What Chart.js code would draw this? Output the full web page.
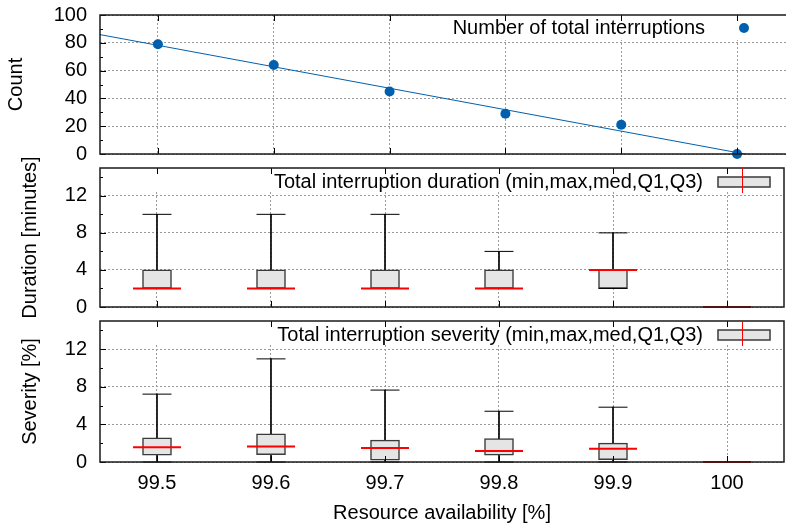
<!DOCTYPE html>
<html>
<head>
<meta charset="utf-8">
<script src="https://cdn.jsdelivr.net/npm/chart.js@4.4.1/dist/chart.umd.min.js"></script>
<style>
  html, body { margin: 0; padding: 0; background: #fff; overflow: hidden; }
  .wrap { position: relative; width: 786px; height: 525px; overflow: hidden; }
  .wrap canvas { position: absolute; left: 0; top: 0; }
</style>
</head>
<body>
<div class="wrap">
  <canvas id="countChart" width="810" height="525"></canvas>
  <canvas id="durationChart" width="810" height="525"></canvas>
  <canvas id="severityChart" width="810" height="525"></canvas>
</div>
<script>
// gnuplot-ish look
Chart.defaults.font.family = '"Liberation Sans", Arial, sans-serif';
Chart.defaults.font.size = 20;
Chart.defaults.color = '#000';
Chart.defaults.animation = false;

// x categories (resource availability, %)
const availability = [99.5, 99.6, 99.7, 99.8, 99.9, 100];
const xTickLabels = ['99.5', '99.6', '99.7', '99.8', '99.9', '100'];

// top panel: number of interruptions + fitted line (end points)
const interruptions = [79, 64, 45, 29, 21, 0];
const fitX = [99.45, 100.05];
const fitY = [85.9, -6.7];
const countTicks = [0, 20, 40, 60, 80, 100];

// middle panel: duration [minutes]
const durMin = [2, 2, 2, 2, 2, 0];
const durQ1 = [2, 2, 2, 2, 2, 0];
const durMed = [2, 2, 2, 2, 4, 0];
const durQ3 = [4, 4, 4, 4, 4, 0];
const durMax = [10, 10, 10, 6, 8, 0];

// bottom panel: severity [%]
const sevMin = [0, 0, 0, 0, 0, 0];
const sevQ1 = [0.72, 0.79, 0.2, 0.72, 0.26, 0];
const sevMed = [1.58, 1.65, 1.5, 1.18, 1.4, 0];
const sevQ3 = [2.57, 3.0, 2.33, 2.5, 2.0, 0];
const sevMax = [7.22, 10.97, 7.65, 5.4, 5.83, 0];
const boxTicks = [0, 4, 8, 12];

const BLUE = '#0060ad';
const gridDash = [2, 2];
const gridColor = '#9a9a9a';

// Frame, inward ticks and in-plot key, drawn like gnuplot does
const panelFrame = {
  id: 'panelFrame',
  beforeDatasetsDraw(chart, args, o) {
    const a = chart.chartArea, ctx = chart.ctx;
    ctx.save();
    ctx.fillStyle = '#fff';
    ctx.fillRect(o.keyLeft, a.top, a.right - o.keyLeft, o.keyHeight);
    ctx.restore();
  },
  afterDraw(chart, args, o) {
    const a = chart.chartArea, ctx = chart.ctx;
    const xs = chart.scales.x, ys = chart.scales.y;
    ctx.save();

    // tick marks pointing into the plot
    ctx.strokeStyle = '#000';
    ctx.lineWidth = 1;
    ctx.beginPath();
    xs.ticks.forEach(t => {
      const px = Math.round(xs.getPixelForValue(t.value)) + 0.5;
      ctx.moveTo(px, a.bottom); ctx.lineTo(px, a.bottom - 6);
      ctx.moveTo(px, a.top); ctx.lineTo(px, a.top + 6);
    });
    const step = ys.ticks[1].value - ys.ticks[0].value;
    ys.ticks.forEach(t => {
      const py = Math.round(ys.getPixelForValue(t.value)) + 0.5;
      ctx.moveTo(a.left, py); ctx.lineTo(a.left + 6, py);
      const mid = t.value + step / 2;
      if (mid < ys.max) {
        const pm = Math.round(ys.getPixelForValue(mid)) + 0.5;
        ctx.moveTo(a.left, pm); ctx.lineTo(a.left + 3, pm);
      }
    });
    ctx.stroke();

    // border
    ctx.strokeStyle = '#1a1a1a';
    ctx.lineWidth = 1.5;
    ctx.strokeRect(a.left, a.top, a.right - a.left, a.bottom - a.top);

    // key
    const ds = chart.data.datasets[0];
    const ky = a.top + o.keyY;
    ctx.font = '20px "Liberation Sans", Arial, sans-serif';
    ctx.fillStyle = '#000';
    ctx.textAlign = 'right';
    ctx.textBaseline = 'middle';
    ctx.fillText(ds.label, o.textRight, ky);
    if (o.symbol === 'dot') {
      ctx.fillStyle = BLUE;
      ctx.beginPath();
      ctx.arc(744, ky, 5, 0, Math.PI * 2);
      ctx.fill();
    } else {
      ctx.fillStyle = '#e5e5e5';
      ctx.fillRect(718, ky - 5, 52, 10);
      ctx.strokeStyle = '#3a3a3a';
      ctx.lineWidth = 1.5;
      ctx.strokeRect(718, ky - 5, 52, 10);
      ctx.strokeStyle = '#ff0000';
      ctx.lineWidth = 1;
      ctx.beginPath();
      ctx.moveTo(742.5, a.top); ctx.lineTo(742.5, a.top + 25);
      ctx.stroke();
    }
    ctx.restore();
  }
};

// keep the panels exactly where the layout padding puts them
function noEdgePadding(s) {
  s.paddingTop = 0; s.paddingBottom = 0; s.paddingLeft = 0; s.paddingRight = 0;
}

function xScale(bottom) {
  return {
    type: 'linear', min: 99.45, max: 100.05, offset: false,
    afterBuildTicks: s => { s.ticks = availability.map(v => ({ value: v })); },
    afterFit: s => { s.height = bottom ? 63 : 0; noEdgePadding(s); },
    grid: { color: gridColor, drawTicks: false, offset: false },
    border: { display: false, dash: gridDash },
    ticks: { display: bottom, padding: 9, maxRotation: 0, callback: (v, i) => xTickLabels[i] },
    title: { display: bottom, text: 'Resource availability [%]', padding: 0 }
  };
}

function yScale(max, ticks, title, width) {
  return {
    min: 0, max: max,
    afterBuildTicks: s => { s.ticks = ticks.map(v => ({ value: v })); },
    afterFit: s => { s.width = width; noEdgePadding(s); },
    grid: { color: gridColor, drawTicks: false },
    border: { display: false, dash: gridDash },
    ticks: { padding: 13, callback: v => String(v) },
    title: { display: true, text: title, padding: { top: 4, bottom: 0 } }
  };
}

// top: count scatter with fit line
new Chart(document.getElementById('countChart'), {
  type: 'scatter',
  data: {
    datasets: [
      {
        label: 'Number of total interruptions',
        data: availability.map((x, i) => ({ x: x, y: interruptions[i] })),
        pointRadius: 5, pointBackgroundColor: BLUE, pointBorderWidth: 0,
        clip: 10, order: 0
      },
      {
        label: 'fit',
        data: fitX.map((x, i) => ({ x: x, y: fitY[i] })),
        showLine: true, borderColor: BLUE, borderWidth: 1, pointRadius: 0,
        clip: 0, order: 1
      }
    ]
  },
  options: {
    responsive: false, devicePixelRatio: 1,
    layout: { padding: { left: 0, top: 15, right: 15, bottom: 371 } },
    plugins: {
      legend: { display: false }, tooltip: { enabled: false },
      panelFrame: { keyLeft: 440, keyHeight: 25, keyY: 13, textRight: 705, symbol: 'dot' }
    },
    scales: { x: xScale(false), y: yScale(100, countTicks, 'Count', 100) }
  },
  plugins: [panelFrame]
});

// box panels: floating bar = Q1..Q3, thin bar = whisker, line points = caps and median
function boxChart(id, mins, q1, med, q3, maxs, label, yTitle, pad, bottom) {
  return new Chart(document.getElementById(id), {
    type: 'scatter',
    data: {
      datasets: [
        {
          type: 'bar', label: label,
          data: availability.map((x, i) => ({ x: x, y: [q1[i], q3[i]] })),
          barThickness: 29, grouped: false,
          backgroundColor: '#e5e5e5', borderColor: '#3a3a3a', borderWidth: 1.5, borderSkipped: false,
          order: 2
        },
        {
          type: 'bar', label: 'whisker',
          data: availability.map((x, i) => ({ x: x, y: [mins[i], maxs[i]] })),
          barThickness: 1, grouped: false, backgroundColor: '#000', borderWidth: 0,
          order: 3
        },
        {
          label: 'caps',
          data: availability.map((x, i) => ({ x: x, y: maxs[i] }))
            .concat(availability.map((x, i) => ({ x: x, y: mins[i] }))),
          pointStyle: 'line', pointRadius: 14.5, pointBorderColor: '#000', pointBorderWidth: 1,
          clip: 2, order: 1
        },
        {
          label: 'median',
          data: availability.map((x, i) => ({ x: x, y: med[i] })),
          pointStyle: 'line', pointRadius: 24, pointBorderColor: '#ff0000', pointBorderWidth: 2,
          clip: 2, order: 0
        }
      ]
    },
    options: {
      responsive: false, devicePixelRatio: 1,
      layout: { padding: pad },
      plugins: {
        legend: { display: false }, tooltip: { enabled: false },
        panelFrame: { keyLeft: 100, keyHeight: 24, keyY: 14, textRight: 703, symbol: 'box' }
      },
      scales: { x: xScale(bottom), y: yScale(15, boxTicks, yTitle, 86) }
    },
    plugins: [panelFrame]
  });
}

boxChart('durationChart', durMin, durQ1, durMed, durQ3, durMax,
  'Total interruption duration (min,max,med,Q1,Q3)', 'Duration [minutes]',
  { left: 14, top: 168, right: 15, bottom: 218 }, false);

boxChart('severityChart', sevMin, sevQ1, sevMed, sevQ3, sevMax,
  'Total interruption severity (min,max,med,Q1,Q3)', 'Severity [%]',
  { left: 14, top: 321, right: 15, bottom: 0 }, true);
</script>
</body>
</html>
